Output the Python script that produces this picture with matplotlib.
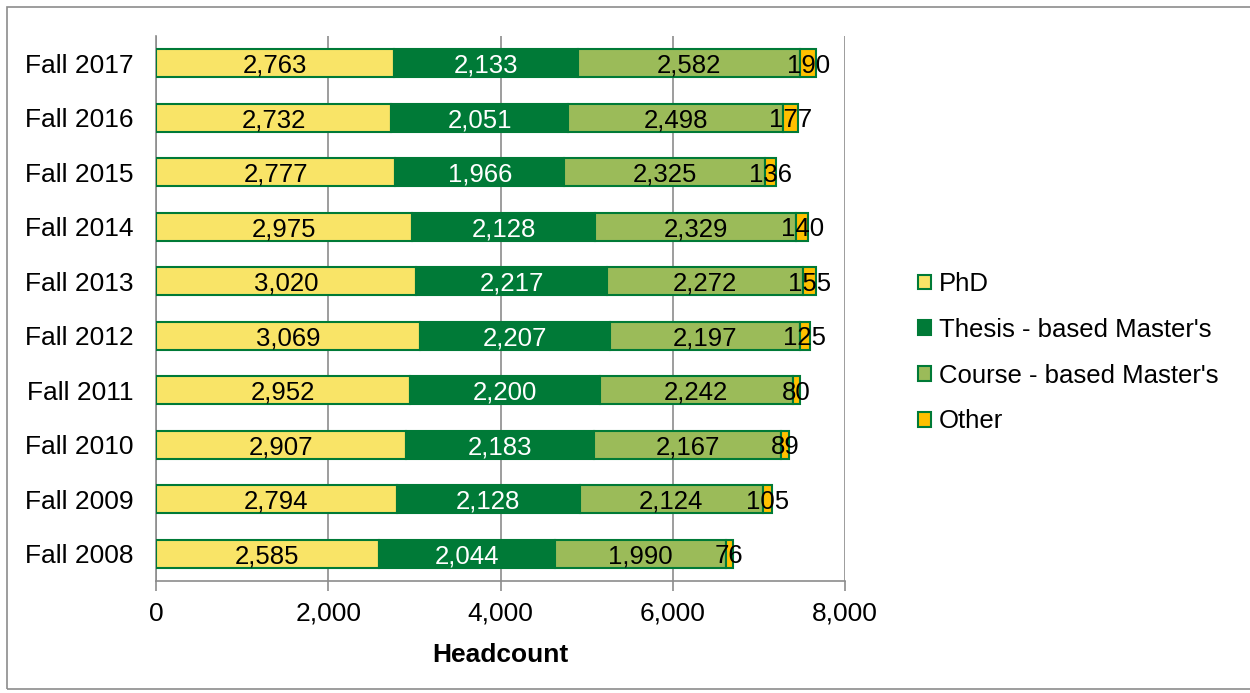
import matplotlib
matplotlib.use("Agg")
import matplotlib.pyplot as plt
from matplotlib.patches import Rectangle
import numpy as np

plt.rcParams["font.family"] = ["Liberation Sans", "DejaVu Sans"]

years = ["Fall 2008", "Fall 2009", "Fall 2010", "Fall 2011", "Fall 2012",
         "Fall 2013", "Fall 2014", "Fall 2015", "Fall 2016", "Fall 2017"]
phd = [2585, 2794, 2907, 2952, 3069, 3020, 2975, 2777, 2732, 2763]
thesis = [2044, 2128, 2183, 2200, 2207, 2217, 2128, 1966, 2051, 2133]
course = [1990, 2124, 2167, 2242, 2197, 2272, 2329, 2325, 2498, 2582]
other = [76, 105, 89, 80, 125, 155, 140, 136, 177, 190]

series = [
    ("PhD", phd, "#F9E467", "black"),
    ("Thesis - based Master's", thesis, "#007A37", "white"),
    ("Course - based Master's", course, "#9BBB59", "black"),
    ("Other", other, "#FFC000", "black"),
]

FS = 19

fig = plt.figure(figsize=(12.5, 6.93), dpi=100)
ax = fig.add_axes([0.1248, 0.1616, 0.5512, 0.7865])

# outer chart border
fig.patches.append(Rectangle((7 / 1250, 4 / 693), 1.1, 682 / 693,
                             transform=fig.transFigure, fill=False,
                             edgecolor="#8C8C8C", linewidth=1.2))

y = np.arange(len(years))
left = np.zeros(len(years))
handles = []
for name, vals, color, tcolor in series:
    vals = np.array(vals)
    bars = ax.barh(y, vals, left=left, height=0.52, color=color,
                   edgecolor="#007A37", linewidth=1.5, label=name, zorder=3)
    handles.append(bars)
    for yi, l, v in zip(y, left, vals):
        ax.text(l + v / 2, yi - 0.05, f"{v:,}", ha="center", va="center",
                fontsize=18.5, color=tcolor, zorder=4)
    left += vals

ax.set_xlim(0, 8000)
ax.set_ylim(-0.5, len(years) - 0.5)
ax.set_xticks([0, 2000, 4000, 6000, 8000])
ax.set_xticklabels(["0", "2,000", "4,000", "6,000", "8,000"])
ax.set_yticks(y)
ax.set_yticklabels(years)
ax.tick_params(axis="x", length=7, width=1.2, color="#8C8C8C",
               labelsize=FS, pad=8)
ax.tick_params(axis="y", length=0, labelsize=FS, pad=16)
ax.grid(axis="x", color="#8C8C8C", linewidth=1.2, zorder=0)
for s in ["top", "right"]:
    ax.spines[s].set_visible(False)
for s in ["left", "bottom"]:
    ax.spines[s].set_color("#8C8C8C")
    ax.spines[s].set_linewidth(1.2)
ax.set_xlabel("Headcount", fontsize=FS, fontweight="bold", labelpad=12)

leg = fig.legend(handles=handles, loc="center left",
                 bbox_to_anchor=(0.716, 0.491), frameon=False,
                 fontsize=18.5, handlelength=0.5, handleheight=0.5,
                 handletextpad=0.3, labelspacing=0.85)

fig.savefig("out.png", dpi=100)
